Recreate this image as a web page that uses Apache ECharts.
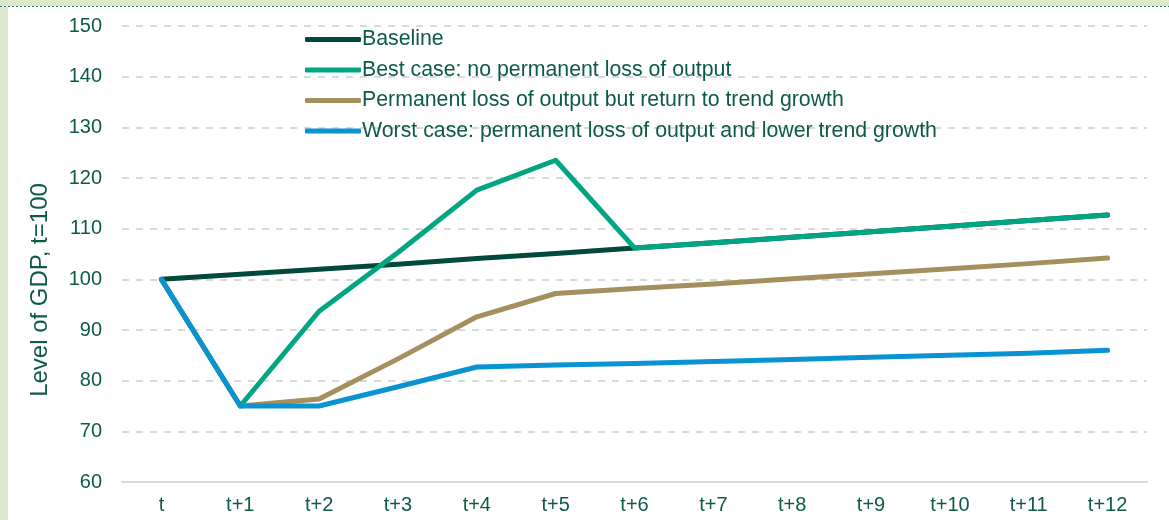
<!DOCTYPE html>
<html>
<head>
<meta charset="utf-8">
<script src="https://cdn.jsdelivr.net/npm/echarts@6/dist/echarts.min.js"></script>
<style>html,body{margin:0;padding:0;background:#fff}#c{width:1169px;height:520px}</style>
</head>
<body>
<div id="c"></div>
<script>
var categories = ['t','t+1','t+2','t+3','t+4','t+5','t+6','t+7','t+8','t+9','t+10','t+11','t+12'];
var baseline = [100, 101, 102, 103, 104.1, 105.1, 106.2, 107.2, 108.3, 109.4, 110.5, 111.6, 112.7];
var bestCase = [100, 75, 93.7, 105.3, 117.6, 123.5, 106.2, 107.2, 108.3, 109.4, 110.5, 111.6, 112.7];
var permLoss = [100, 75, 76.4, 84.3, 92.6, 97.2, 98.2, 99.1, 100.1, 101.1, 102.1, 103.1, 104.2];
var worstCase = [100, 75, 75, 78.8, 82.7, 83.1, 83.4, 83.8, 84.2, 84.6, 85.0, 85.4, 86.0];
var seriesNames = ['Baseline', 'Best case: no permanent loss of output', 'Permanent loss of output but return to trend growth', 'Worst case: permanent loss of output and lower trend growth'];
var colors = ['#00493B', '#00A582', '#A48F5E', '#0A93D2'];
var yAxisTitle = 'Level of GDP, t=100';

var chart = echarts.init(document.getElementById('c'));
var textColor = '#0E5A4A';
var font = 'Liberation Sans, Arial, sans-serif';
function mk(name, data, color, z) {
  return {
    name: name, type: 'line', data: data, symbol: 'none', z: z,
    lineStyle: { color: color, width: 5, cap: 'round', join: 'round' },
    itemStyle: { color: color }
  };
}
chart.setOption({
  animation: false,
  color: colors,
  grid: { left: 122, right: 22, top: 26, bottom: 38, containLabel: false },
  legend: {
    orient: 'vertical', left: 300, top: 24, itemGap: 9.5, itemWidth: 56, itemHeight: 5,
    icon: 'roundRect',
    textStyle: { color: textColor, fontSize: 21.3, fontFamily: font, padding: [0,0,0,-4] },
    data: seriesNames
  },
  xAxis: {
    type: 'category', data: categories, boundaryGap: true,
    axisLine: { lineStyle: { color: '#D9D9D9', width: 2 } },
    axisTick: { show: false },
    axisLabel: { color: textColor, fontSize: 20, fontFamily: font, margin: 13 }
  },
  yAxis: {
    type: 'value', min: 60, max: 150, interval: 10,
    axisLine: { show: false }, axisTick: { show: false },
    axisLabel: { color: textColor, fontSize: 20, fontFamily: font, margin: 20 },
    splitLine: { lineStyle: { color: '#D9D9D9', width: 2, type: [7, 7] } }
  },
  graphic: [
    { type: 'rect', left: 0, top: 0, shape: { width: 1169, height: 6 }, style: { fill: '#DEE8CA' }, z: 0 },
    { type: 'line', shape: { x1: 0, y1: 6.5, x2: 1169, y2: 6.5 }, style: { stroke: '#2E7A5A', lineWidth: 1, lineDash: [2, 2] }, z: 1 },
    { type: 'rect', left: 0, top: 7, shape: { width: 8, height: 513 }, style: { fill: '#DEE8CA' }, z: 0 },
    { type: 'text', x: 40, y: 290, rotation: Math.PI / 2,
      style: { text: yAxisTitle, fill: textColor, font: '24px ' + font, textAlign: 'center', textVerticalAlign: 'middle' } }
  ],
  series: [
    mk(seriesNames[0], baseline, colors[0], 2),
    mk(seriesNames[1], bestCase, colors[1], 3),
    mk(seriesNames[2], permLoss, colors[2], 4),
    mk(seriesNames[3], worstCase, colors[3], 5)
  ]
});
</script>
</body>
</html>
